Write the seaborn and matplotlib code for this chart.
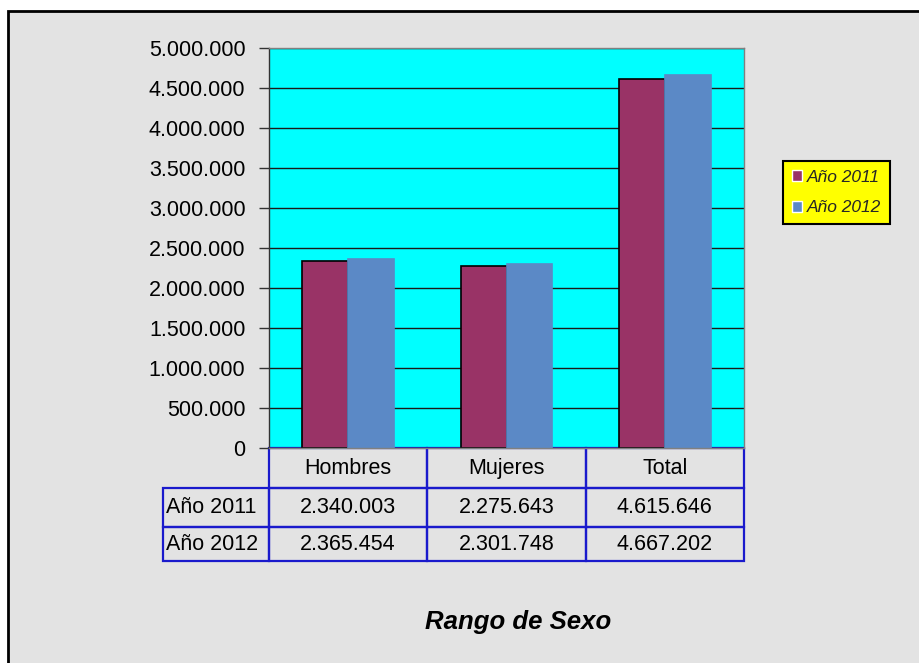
import seaborn as sns
import numpy as np
import matplotlib.pyplot as plt
from matplotlib.patches import Rectangle
from matplotlib.table import Table
import pandas as pd

### Data

sexo = ["Hombres", "Mujeres", "Total"]
anios = ["Año 2011", "Año 2012"]
valores_2011 = [2340003, 2275643, 4615646]
valores_2012 = [2365454, 2301748, 4667202]
colores = ["#993366", "#5b89c6"]


def miles(v):
    return "{:,.0f}".format(v).replace(",", ".")


df = pd.DataFrame({
    "sexo": sexo * 2,
    "anio": [anios[0]] * 3 + [anios[1]] * 3,
    "valor": valores_2011 + valores_2012,
})

sns.set_theme(style="white")
plt.rcParams["font.family"] = ["Liberation Sans", "DejaVu Sans"]

W, H = 919, 663
fig = plt.figure(figsize=(W / 100, H / 100), dpi=100, facecolor="white")

# granite-ish panel with black frame
fig.patches.append(Rectangle((8 / W, -0.02), 1.05, 1 - 11 / H + 0.02, transform=fig.transFigure,
                             facecolor="#e3e3e3", edgecolor="black", lw=2, zorder=-10))

ax = fig.add_axes([269 / W, 1 - 448 / H, 475 / W, 400 / H])
ax.set_facecolor("#00ffff")

sns.barplot(data=df, x="sexo", y="valor", hue="anio", palette=colores, width=0.58,
            gap=0, saturation=1, ax=ax)
for cont, ec in zip(ax.containers, ["black", "#5b89c6"]):
    for bar in cont:
        bar.set_edgecolor(ec)
        bar.set_linewidth(1.2)

ticks = np.arange(0, 5000001, 500000)
ax.set_ylim(0, 5000000)
ax.set_yticks(ticks)
ax.set_yticklabels([miles(v) for v in ticks], fontsize=15.5, color="black")
ax.yaxis.grid(True, color="#1a1a1a", lw=1)
ax.set_axisbelow(True)
ax.tick_params(axis="y", left=True, length=7, width=1, color="#333333", direction="out", pad=10)
ax.tick_params(axis="x", bottom=False, labelbottom=False)
ax.set_xlabel("")
ax.set_ylabel("")
for s in ax.spines.values():
    s.set_color("#808080")
    s.set_linewidth(1)
ax.spines["left"].set_color("#333333")

handles, labels = ax.get_legend_handles_labels()
ax.get_legend().remove()

# data table below the plot area
filas = [[""] + sexo,
         [anios[0]] + [miles(v) for v in valores_2011],
         [anios[1]] + [miles(v) for v in valores_2012]]
anchos = [106 / 475] + [1 / 3] * 3
altos = [40 / 400, 39 / 400, 34 / 400]
tabla = Table(ax, bbox=[-106 / 475, -113 / 400, 581 / 475, 113 / 400])
for r, fila in enumerate(filas):
    for c, txt in enumerate(fila):
        cell = tabla.add_cell(r, c, width=anchos[c], height=altos[r], text=txt,
                              loc="left" if c == 0 else "center",
                              facecolor="none", edgecolor="#1a1acc")
        cell.set_linewidth(1.6)
        cell.PAD = 0.03
        cell.get_text().set_color("black")
        if r == 0 and c == 0:
            cell.visible_edges = ""
tabla.auto_set_font_size(False)
tabla.set_fontsize(15.5)
ax.add_table(tabla)

leg = fig.legend(handles, labels, loc="upper left", bbox_to_anchor=(783 / W, 1 - 161 / H),
                 borderaxespad=0, fancybox=False, framealpha=1, facecolor="#ffff00",
                 edgecolor="black", handlelength=0.6, handleheight=0.6, handletextpad=0.3,
                 labelspacing=0.9, borderpad=0.5, prop={"style": "italic", "size": 12.5})
leg.get_frame().set_linewidth(1.5)

fig.text(518 / W, 1 - 622 / H, "Rango de Sexo", ha="center", va="center",
         fontsize=18.5, fontweight="bold", fontstyle="italic", color="black")

fig.savefig("out.png", dpi=100)
